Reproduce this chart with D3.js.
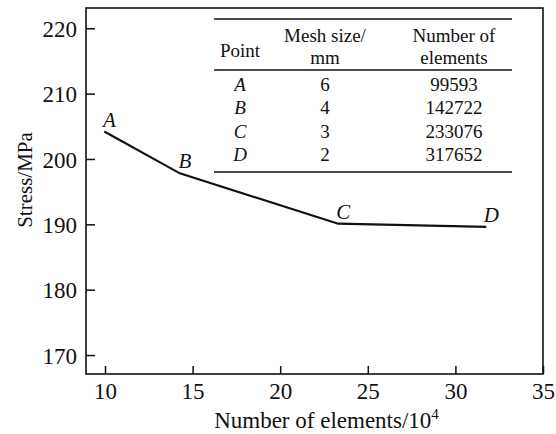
<!DOCTYPE html>
<html>
<head>
<meta charset="utf-8">
<script src="https://cdn.jsdelivr.net/npm/d3@7"></script>
<style>
  body { margin: 0; background: #fff; }
  text { font-family: "Liberation Serif", "Times New Roman", serif; fill: #111; }
</style>
</head>
<body>
<div id="chart"></div>
<script>
(function() {
  // data
  var pointNames = ["A", "B", "C", "D"];
  var meshSizes = [6, 4, 3, 2];
  var elementCounts = [99593, 142722, 233076, 317652];
  var stress = [204.2, 197.8, 190.1, 189.6];
  var xTicks = [10, 15, 20, 25, 30, 35];
  var yTicks = [170, 180, 190, 200, 210, 220];

  var W = 556, H = 434;
  var margin = { top: 8, left: 86, right: 13, bottom: 60 },
      width = W - margin.left - margin.right,
      height = H - margin.top - margin.bottom;

  var svg = d3.select("#chart")
      .append("svg")
      .attr("width", W)
      .attr("height", H)
      .append("g")
      .attr("transform", "translate(" + margin.left + "," + margin.top + ")");

  var xPositionScale = d3.scaleLinear()
    .domain([8.915, 35])
    .range([0, width]);

  var yPositionScale = d3.scaleLinear()
    .domain([167.1, 223.1])
    .range([height, 0]);

  // frame
  svg.append("rect")
    .attr("width", width)
    .attr("height", height)
    .attr("fill", "none")
    .attr("stroke", "#111")
    .attr("stroke-width", 1.6);

  var xAxis = d3.axisBottom(xPositionScale)
    .tickValues(xTicks)
    .tickSizeInner(-8)
    .tickSizeOuter(0)
    .tickPadding(9);
  var gx = svg.append("g")
    .attr("class", "axis x-axis")
    .attr("transform", "translate(0," + height + ")")
    .call(xAxis);

  var yAxis = d3.axisLeft(yPositionScale)
    .tickValues(yTicks)
    .tickSizeInner(-9)
    .tickSizeOuter(0)
    .tickPadding(9);
  var gy = svg.append("g")
    .attr("class", "axis y-axis")
    .call(yAxis);

  svg.selectAll(".axis .domain").remove();
  svg.selectAll(".axis line").attr("stroke", "#111").attr("stroke-width", 1.5);
  svg.selectAll(".axis text")
    .attr("font-family", "Liberation Serif")
    .attr("font-size", 23)
    .attr("fill", "#111");
  gy.selectAll("text").attr("dy", "0.35em");

  // axis titles
  var xt = svg.append("text")
    .attr("x", width / 2 + 12)
    .attr("y", height + 54)
    .attr("text-anchor", "middle")
    .attr("font-size", 23);
  xt.append("tspan").text("Number of elements/10");
  xt.append("tspan").attr("font-size", 15).attr("dy", -9).text("4");

  svg.append("text")
    .attr("transform", "translate(" + (-54) + "," + (180 - margin.top) + ") rotate(-90)")
    .attr("text-anchor", "middle")
    .attr("font-size", 21)
    .text("Stress/MPa");

  // data line
  var pts = pointNames.map(function(n, i) {
    return { name: n, x: elementCounts[i] / 1e4, y: stress[i] };
  });

  var line = d3.line()
    .x(function(d) { return xPositionScale(d.x); })
    .y(function(d) { return yPositionScale(d.y); });

  svg.append("path")
    .datum(pts)
    .attr("d", line)
    .attr("fill", "none")
    .attr("stroke", "#111")
    .attr("stroke-width", 2.2);

  svg.selectAll(".pt-label")
    .data(pts)
    .enter().append("text")
    .attr("class", "pt-label")
    .attr("x", function(d) { return xPositionScale(d.x) + 5; })
    .attr("y", function(d) { return yPositionScale(d.y) - 5; })
    .attr("text-anchor", "middle")
    .attr("font-style", "italic")
    .attr("font-size", 21)
    .text(function(d) { return d.name; });

  // table (inset)
  var tbl = svg.append("g").attr("transform", "translate(" + (214 - margin.left) + "," + (19 - margin.top) + ")");
  var tw = 298;
  [0, 51, 153].forEach(function(y) {
    tbl.append("line")
      .attr("x1", 0).attr("x2", tw)
      .attr("y1", y).attr("y2", y)
      .attr("stroke", "#111")
      .attr("stroke-width", 1.6);
  });
  var colX = [26, 111, 240];
  var fs = 19;
  tbl.append("text").attr("x", colX[0]).attr("y", 38).attr("text-anchor", "middle").attr("font-size", fs).text("Point");
  tbl.append("text").attr("x", colX[1]).attr("y", 23).attr("text-anchor", "middle").attr("font-size", fs).text("Mesh size/");
  tbl.append("text").attr("x", colX[1]).attr("y", 45).attr("text-anchor", "middle").attr("font-size", fs).text("mm");
  tbl.append("text").attr("x", colX[2]).attr("y", 23).attr("text-anchor", "middle").attr("font-size", fs).text("Number of");
  tbl.append("text").attr("x", colX[2]).attr("y", 45).attr("text-anchor", "middle").attr("font-size", fs).text("elements");

  var rows = tbl.selectAll(".row")
    .data(pointNames)
    .enter().append("g")
    .attr("class", "row")
    .attr("transform", function(d, i) { return "translate(0," + (72 + i * 23.3) + ")"; });
  rows.append("text").attr("x", colX[0]).attr("text-anchor", "middle").attr("font-size", fs)
    .attr("font-style", "italic").text(function(d) { return d; });
  rows.append("text").attr("x", colX[1]).attr("text-anchor", "middle").attr("font-size", fs)
    .text(function(d, i) { return meshSizes[i]; });
  rows.append("text").attr("x", colX[2]).attr("text-anchor", "middle").attr("font-size", fs)
    .text(function(d, i) { return elementCounts[i]; });
})();
</script>
</body>
</html>
